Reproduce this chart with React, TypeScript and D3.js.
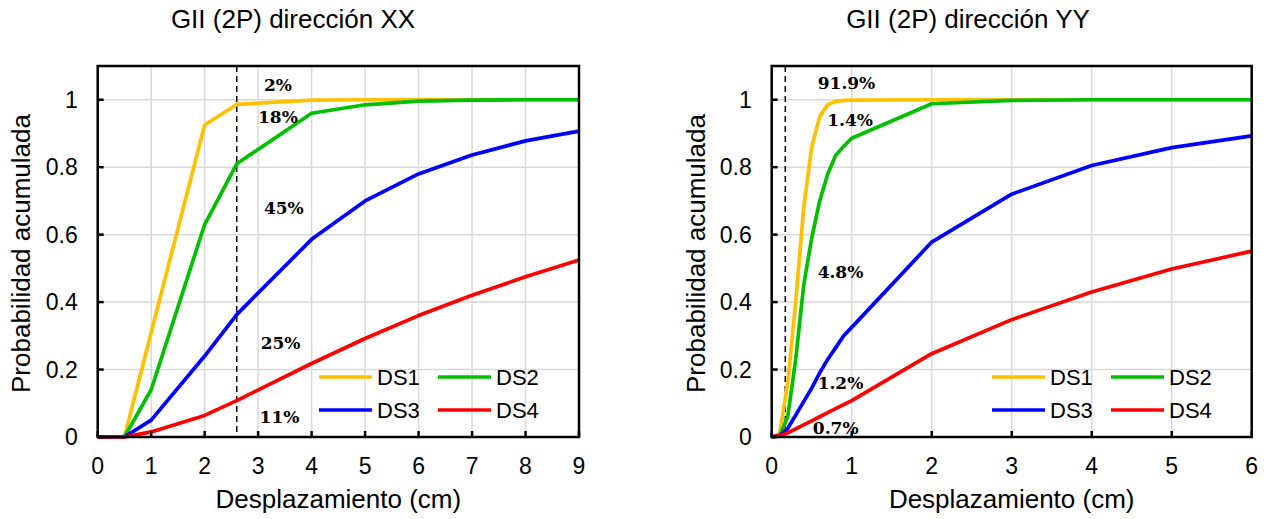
import React from "react";
import * as d3 from "d3";

// Fragility curves, direction XX
const xxDisp = [0, 0.5, 1, 2, 2.6, 4, 5, 6, 7, 8, 9];
const xxDS1 = [0, 0, 0.31, 0.925, 0.986, 0.999, 1, 1, 1, 1, 1];
const xxDS2 = [0, 0, 0.14, 0.63, 0.81, 0.96, 0.985, 0.996, 0.999, 1, 1];
const xxDS3 = [0, 0, 0.05, 0.24, 0.363, 0.586, 0.7, 0.78, 0.836, 0.878, 0.907];
const xxDS4 = [0, 0, 0.015, 0.064, 0.108, 0.218, 0.292, 0.36, 0.42, 0.475, 0.525];
const xxTicks = [0, 1, 2, 3, 4, 5, 6, 7, 8, 9];
const xxDemand = 2.6;
const xxLabels = ["2%", "18%", "45%", "25%", "11%"];
const xxLabelX = [3.37, 3.37, 3.48, 3.42, 3.4];
const xxLabelY = [1.045, 0.948, 0.68, 0.28, 0.06];

// Fragility curves, direction YY
const yyDisp = [0, 0.1, 0.2, 0.3, 0.4, 0.5, 0.6, 0.7, 0.8, 0.9, 1, 2, 3, 4, 5, 6];
const yyDS1 = [0, 0.01, 0.16, 0.4, 0.68, 0.86, 0.95, 0.985, 0.995, 0.998, 0.999, 1, 1, 1, 1, 1];
const yyDS2 = [0, 0.003, 0.06, 0.23, 0.45, 0.59, 0.7, 0.78, 0.835, 0.862, 0.886, 0.988, 0.998, 1, 1, 1];
const yyDS3 = [0, 0.005, 0.025, 0.065, 0.105, 0.145, 0.19, 0.23, 0.265, 0.3, 0.325, 0.578, 0.72, 0.805, 0.858, 0.893];
const yyDS4 = [0, 0.004, 0.012, 0.024, 0.036, 0.048, 0.06, 0.072, 0.084, 0.096, 0.108, 0.247, 0.348, 0.43, 0.498, 0.551];
const yyTicks = [0, 1, 2, 3, 4, 5, 6];
const yyDemand = 0.17;
const yyLabels = ["91.9%", "1.4%", "4.8%", "1.2%", "0.7%"];
const yyLabelX = [0.935, 0.98, 0.86, 0.86, 0.8];
const yyLabelY = [1.048, 0.94, 0.488, 0.16, 0.027];

const probTicks = [0, 0.2, 0.4, 0.6, 0.8, 1];
const seriesNames = ["DS1", "DS2", "DS3", "DS4"];
const seriesColors = ["#FFC000", "#00C000", "#0000FF", "#FF0000"];

const SANS = "Arial, 'Liberation Sans', sans-serif";
const SERIF = "'DejaVu Serif', serif";

type PanelProps = {
  title: string;
  titleX: number;
  left: number;
  right: number;
  xMax: number;
  xTicks: number[];
  disp: number[];
  series: number[][];
  demand: number;
  labels: string[];
  labelX: number[];
  labelY: number[];
  legendX: number;
  yTitleX: number;
};

const TOP = 66;
const BOTTOM = 437;

function Panel(p: PanelProps) {
  const x = d3.scaleLinear().domain([0, p.xMax]).range([p.left, p.right]);
  const y = d3.scaleLinear().domain([0, 1.1]).range([BOTTOM, TOP]);
  const line = d3
    .line<number>()
    .x((_, i) => x(p.disp[i]))
    .y((d) => y(d));

  return (
    <g>
      <text x={p.titleX} y={28} textAnchor="middle" fontFamily={SANS} fontSize={26} fill="#000">
        {p.title}
      </text>
      {/* grid */}
      {p.xTicks.slice(1).map((t) => (
        <line key={"gx" + t} x1={x(t)} x2={x(t)} y1={TOP} y2={BOTTOM} stroke="#d9d9d9" strokeWidth={1.5} />
      ))}
      {probTicks.slice(1).map((t) => (
        <line key={"gy" + t} x1={p.left} x2={p.right} y1={y(t)} y2={y(t)} stroke="#d9d9d9" strokeWidth={1.5} />
      ))}
      {/* demand line */}
      <line
        x1={x(p.demand)}
        x2={x(p.demand)}
        y1={TOP}
        y2={BOTTOM}
        stroke="#000"
        strokeWidth={1.5}
        strokeDasharray="6,4"
      />
      {/* curves */}
      {p.series.map((s, i) => (
        <path key={seriesNames[i]} d={line(s) || ""} fill="none" stroke={seriesColors[i]} strokeWidth={3.7} strokeLinejoin="round" />
      ))}
      {/* frame */}
      <rect x={p.left} y={TOP} width={p.right - p.left} height={BOTTOM - TOP} fill="none" stroke="#000" strokeWidth={2.5} />
      {/* ticks */}
      {p.xTicks.map((t) => (
        <line key={"tx" + t} x1={x(t)} x2={x(t)} y1={BOTTOM} y2={BOTTOM - 6} stroke="#000" strokeWidth={2.5} />
      ))}
      {probTicks.map((t) => (
        <line key={"ty" + t} x1={p.left} x2={p.left + 6} y1={y(t)} y2={y(t)} stroke="#000" strokeWidth={2.5} />
      ))}
      {/* tick labels */}
      {p.xTicks.map((t) => (
        <text key={"lx" + t} x={x(t)} y={474} textAnchor="middle" fontFamily={SANS} fontSize={23} fill="#000">
          {t}
        </text>
      ))}
      {probTicks.map((t) => (
        <text key={"ly" + t} x={p.left - 20} y={y(t)} dy="0.36em" textAnchor="end" fontFamily={SANS} fontSize={23} fill="#000">
          {t === 0 || t === 1 ? String(t) : t.toFixed(1)}
        </text>
      ))}
      {/* axis titles */}
      <text x={(p.left + p.right) / 2} y={508} textAnchor="middle" fontFamily={SANS} fontSize={26} fill="#000">
        Desplazamiento (cm)
      </text>
      <text
        transform={`translate(${p.yTitleX},${(TOP + BOTTOM) / 2 + 2}) rotate(-90)`}
        textAnchor="middle"
        fontFamily={SANS}
        fontSize={26}
        fill="#000"
      >
        Probabilidad acumulada
      </text>
      {/* probabilities of each damage state */}
      {p.labels.map((l, i) => (
        <text
          key={"pl" + i}
          x={x(p.labelX[i])}
          y={y(p.labelY[i])}
          dy="0.35em"
          textAnchor="middle"
          fontFamily={SERIF}
          fontWeight="bold"
          fontSize={17}
          fill="#000"
        >
          {l}
        </text>
      ))}
      {/* legend */}
      {seriesNames.map((n, i) => {
        const lx = p.legendX + (i % 2) * 119;
        const ly = 377 + Math.floor(i / 2) * 33;
        return (
          <g key={"lg" + n}>
            <line x1={lx} x2={lx + 53} y1={ly} y2={ly} stroke={seriesColors[i]} strokeWidth={3.7} />
            <text x={lx + 58} y={ly} dy="0.36em" fontFamily={SANS} fontSize={22} fill="#000">
              {n}
            </text>
          </g>
        );
      })}
    </g>
  );
}

export default function App() {
  return (
    <svg
      width={1271}
      height={519}
      viewBox="0 0 1271 519"
      style={{ position: "absolute", left: 0, top: 0, background: "#fff" }}
    >
      <rect x={0} y={0} width={1271} height={519} fill="#fff" />
      <Panel
        title="GII (2P) dirección XX"
        titleX={293}
        left={97.7}
        right={579}
        xMax={9}
        xTicks={xxTicks}
        disp={xxDisp}
        series={[xxDS1, xxDS2, xxDS3, xxDS4]}
        demand={xxDemand}
        labels={xxLabels}
        labelX={xxLabelX}
        labelY={xxLabelY}
        legendX={319}
        yTitleX={30}
      />
      <Panel
        title="GII (2P) dirección YY"
        titleX={968}
        left={771.7}
        right={1251.7}
        xMax={6}
        xTicks={yyTicks}
        disp={yyDisp}
        series={[yyDS1, yyDS2, yyDS3, yyDS4]}
        demand={yyDemand}
        labels={yyLabels}
        labelX={yyLabelX}
        labelY={yyLabelY}
        legendX={992}
        yTitleX={705}
      />
    </svg>
  );
}
